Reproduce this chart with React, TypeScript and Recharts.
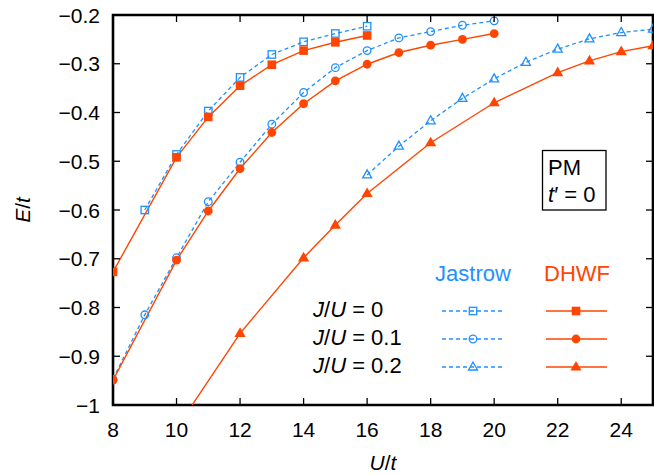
import React from 'react';
import { LineChart, Line, XAxis, YAxis, ReferenceArea, Label } from 'recharts';

// U/t values and E/t energies
const uJastrow0 = [9, 10, 11, 12, 13, 14, 15, 16];
const eJastrow0 = [-0.6, -0.486, -0.397, -0.328, -0.281, -0.255, -0.238, -0.223];
const uDhwf0 = [8, 10, 11, 12, 13, 14, 15, 16];
const eDhwf0 = [-0.727, -0.492, -0.409, -0.345, -0.302, -0.273, -0.256, -0.242];

const uJastrow1 = [8, 9, 10, 11, 12, 13, 14, 15, 16, 17, 18, 19, 20];
const eJastrow1 = [-0.947, -0.815, -0.698, -0.583, -0.502, -0.424, -0.359, -0.308, -0.273, -0.247, -0.234, -0.221, -0.212];
const uDhwf1 = [8, 10, 11, 12, 13, 14, 15, 16, 17, 18, 19, 20];
const eDhwf1 = [-0.949, -0.703, -0.602, -0.515, -0.441, -0.382, -0.335, -0.301, -0.277, -0.262, -0.25, -0.238];

const uJastrow2 = [16, 17, 18, 19, 20, 21, 22, 23, 24, 25];
const eJastrow2 = [-0.528, -0.469, -0.417, -0.371, -0.331, -0.297, -0.27, -0.249, -0.236, -0.229];
const uDhwf2 = [10, 12, 14, 15, 16, 18, 20, 22, 23, 24, 25];
const eDhwf2 = [-1.048, -0.853, -0.698, -0.631, -0.566, -0.462, -0.38, -0.318, -0.294, -0.275, -0.263];

const xTicks = [8, 10, 12, 14, 16, 18, 20, 22, 24];
const yTicks = [-1, -0.9, -0.8, -0.7, -0.6, -0.5, -0.4, -0.3, -0.2];
const ratioLabels = ['0', '0.1', '0.2'];

const toPoints = (u: number[], e: number[]) => u.map((x, i) => ({ u: x, e: e[i] }));

const BLUE = '#1e90ff';
const ORANGE = '#ff4500';
const FONT = '"Liberation Sans", Arial, Helvetica, sans-serif';

const W = 654;
const H = 475;
const MARGIN = { top: 15, right: 1, bottom: 0, left: 0 };
const Y_AXIS_W = 113;
const X_AXIS_H = 70;
const PLOT_TOP = MARGIN.top;
const PLOT_BOTTOM = H - MARGIN.bottom - X_AXIS_H;
const PLOT_LEFT = MARGIN.left + Y_AXIS_W;
const PLOT_RIGHT = W - MARGIN.right;
const TICK_LEN = 7;

type MarkerProps = { cx: number; cy: number };

const FilledSquare = ({ cx, cy }: MarkerProps) => <rect x={cx - 4.3} y={cy - 4.3} width={8.6} height={8.6} fill={ORANGE} />;
const OpenSquare = ({ cx, cy }: MarkerProps) => (
  <rect x={cx - 3.7} y={cy - 3.7} width={7.4} height={7.4} fill="none" stroke={BLUE} strokeWidth={1.3} />
);
const FilledCircle = ({ cx, cy }: MarkerProps) => <circle cx={cx} cy={cy} r={4.4} fill={ORANGE} />;
const OpenCircle = ({ cx, cy }: MarkerProps) => <circle cx={cx} cy={cy} r={3.8} fill="none" stroke={BLUE} strokeWidth={1.3} />;
const FilledTriangle = ({ cx, cy }: MarkerProps) => (
  <polygon points={`${cx},${cy - 6} ${cx + 5.6},${cy + 3.6} ${cx - 5.6},${cy + 3.6}`} fill={ORANGE} />
);
const OpenTriangle = ({ cx, cy }: MarkerProps) => (
  <polygon points={`${cx},${cy - 5} ${cx + 4.5},${cy + 3} ${cx - 4.5},${cy + 3}`} fill="none" stroke={BLUE} strokeWidth={1.3} />
);

const dotOf = (Shape: React.FC<MarkerProps>) => (props: any) => {
  if (props.cx == null || props.cy == null) return <g key={props.index} />;
  return <Shape key={props.index} cx={props.cx} cy={props.cy} />;
};

const XTick = (props: any) => {
  const { x, y, payload } = props;
  return (
    <g>
      <line x1={x} x2={x} y1={PLOT_BOTTOM} y2={PLOT_BOTTOM - TICK_LEN} stroke="#000" strokeWidth={1.3} />
      <line x1={x} x2={x} y1={PLOT_TOP} y2={PLOT_TOP + TICK_LEN} stroke="#000" strokeWidth={1.3} />
      <text x={x} y={y} dy="0.71em" textAnchor="middle" fontSize={21} fontFamily={FONT} fill="#000">
        {payload.value}
      </text>
    </g>
  );
};

const fmtY = (v: number) => (v === -1 ? '\u22121' : '\u2212' + Math.abs(v).toFixed(1));

const YTick = (props: any) => {
  const { x, y, payload } = props;
  return (
    <g>
      <line x1={PLOT_LEFT} x2={PLOT_LEFT + TICK_LEN} y1={y} y2={y} stroke="#000" strokeWidth={1.3} />
      <line x1={PLOT_RIGHT} x2={PLOT_RIGHT - TICK_LEN} y1={y} y2={y} stroke="#000" strokeWidth={1.3} />
      <text x={x} y={y} dy="0.36em" textAnchor="end" fontSize={21} fontFamily={FONT} fill="#000">
        {fmtY(payload.value)}
      </text>
    </g>
  );
};

const jastrowShapes = [OpenSquare, OpenCircle, OpenTriangle];
const dhwfShapes = [FilledSquare, FilledCircle, FilledTriangle];

const LegendOverlay = () => (
  <svg width={W} height={H} style={{ position: 'absolute', left: 0, top: 0, pointerEvents: 'none' }}>
    <g fontFamily={FONT} fontSize={22}>
      <rect x={542.5} y={150.5} width={63.5} height={59.5} fill="#fff" stroke="#000" strokeWidth={1.3} />
      <text x={548} y={174.5}>PM</text>
      <text x={548} y={201.5}>
        <tspan fontStyle="italic">t</tspan>
        <tspan>{'\u2032 = 0'}</tspan>
      </text>
      <text x={473} y={281} textAnchor="middle" fill={BLUE}>Jastrow</text>
      <text x={577} y={281} textAnchor="middle" fill={ORANGE}>DHWF</text>
      {ratioLabels.map((r, i) => {
        const y = 311 + i * 28;
        const JS = jastrowShapes[i];
        const DS = dhwfShapes[i];
        return (
          <g key={r}>
            <text x={313} y={y + 6}>
              <tspan fontStyle="italic">J</tspan>
              <tspan>/</tspan>
              <tspan fontStyle="italic">U</tspan>
              <tspan>{' = ' + r}</tspan>
            </text>
            <line x1={442} x2={504} y1={y} y2={y} stroke={BLUE} strokeWidth={1.3} strokeDasharray="4 3" />
            <JS cx={473} cy={y} />
            <line x1={546} x2={607} y1={y} y2={y} stroke={ORANGE} strokeWidth={1.4} />
            <DS cx={576} cy={y} />
          </g>
        );
      })}
    </g>
  </svg>
);

export default function App() {
  return (
    <div style={{ position: 'absolute', left: 0, top: 0, width: W, height: H, background: '#fff' }}>
      <LineChart width={W} height={H} margin={MARGIN}>
        <XAxis
          type="number"
          dataKey="u"
          domain={[8, 25]}
          ticks={xTicks}
          allowDataOverflow
          height={X_AXIS_H}
          tickSize={0}
          tickMargin={17}
          axisLine={false}
          tick={(p: any) => <XTick {...p} />}
        >
          <Label
            content={({ viewBox }: any) => (
              <text x={viewBox.x + viewBox.width / 2} y={viewBox.y + viewBox.height - 5} textAnchor="middle" fontSize={21} fontFamily={FONT}>
                <tspan fontStyle="italic">U</tspan>
                <tspan>/</tspan>
                <tspan fontStyle="italic">t</tspan>
              </text>
            )}
          />
        </XAxis>
        <YAxis
          type="number"
          dataKey="e"
          domain={[-1, -0.2]}
          ticks={yTicks}
          allowDataOverflow
          width={Y_AXIS_W}
          tickSize={0}
          tickMargin={13}
          axisLine={false}
          tick={(p: any) => <YTick {...p} />}
        >
          <Label
            content={({ viewBox }: any) => {
              const cx = 30;
              const cy = viewBox.y + viewBox.height / 2;
              return (
                <text x={cx} y={cy} transform={`rotate(-90, ${cx}, ${cy})`} textAnchor="middle" fontSize={21} fontFamily={FONT}>
                  <tspan fontStyle="italic">E</tspan>
                  <tspan>/</tspan>
                  <tspan fontStyle="italic">t</tspan>
                </text>
              );
            }}
          />
        </YAxis>
        <Line data={toPoints(uJastrow0, eJastrow0)} dataKey="e" stroke={BLUE} strokeWidth={1.3} strokeDasharray="4 3" dot={dotOf(OpenSquare)} activeDot={false} isAnimationActive={false} />
        <Line data={toPoints(uJastrow1, eJastrow1)} dataKey="e" stroke={BLUE} strokeWidth={1.3} strokeDasharray="4 3" dot={dotOf(OpenCircle)} activeDot={false} isAnimationActive={false} />
        <Line data={toPoints(uJastrow2, eJastrow2)} dataKey="e" stroke={BLUE} strokeWidth={1.3} strokeDasharray="4 3" dot={dotOf(OpenTriangle)} activeDot={false} isAnimationActive={false} />
        <Line data={toPoints(uDhwf0, eDhwf0)} dataKey="e" stroke={ORANGE} strokeWidth={1.4} dot={dotOf(FilledSquare)} activeDot={false} isAnimationActive={false} />
        <Line data={toPoints(uDhwf1, eDhwf1)} dataKey="e" stroke={ORANGE} strokeWidth={1.4} dot={dotOf(FilledCircle)} activeDot={false} isAnimationActive={false} />
        <Line data={toPoints(uDhwf2, eDhwf2)} dataKey="e" stroke={ORANGE} strokeWidth={1.4} dot={dotOf(FilledTriangle)} activeDot={false} isAnimationActive={false} />
        <ReferenceArea x1={8} x2={25} y1={-1} y2={-0.2} fill="none" fillOpacity={0} stroke="#000" strokeWidth={2.6} ifOverflow="visible" />
      </LineChart>
      <LegendOverlay />
    </div>
  );
}
